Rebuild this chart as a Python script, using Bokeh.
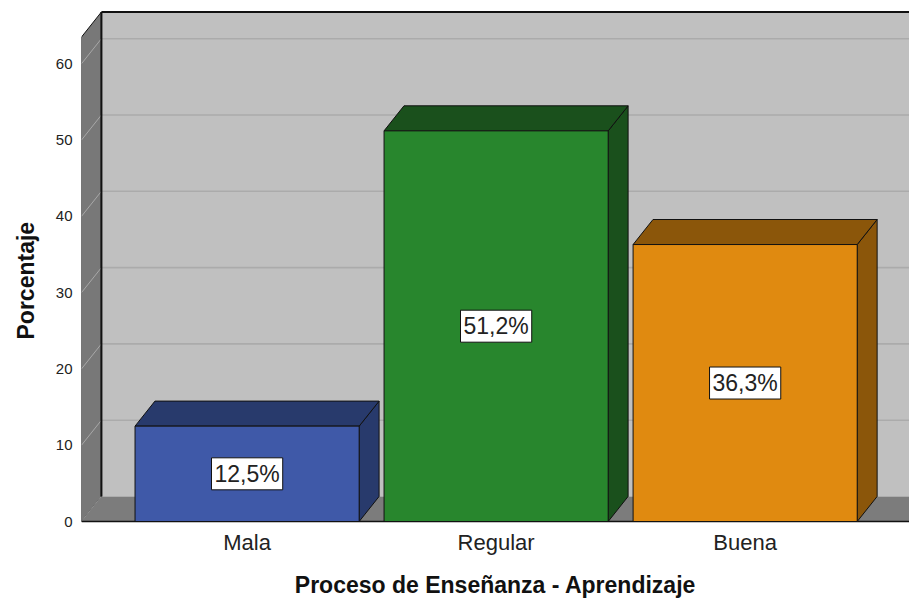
import numpy as np
from bokeh.plotting import figure
from bokeh.models import Range1d, FixedTicker, ColumnDataSource, Title
from bokeh.core.properties import value
from bokeh.embed import file_html
from bokeh.resources import INLINE

# ---- data ----
categories = ["Mala", "Regular", "Buena"]
percentages = [12.5, 51.2, 36.3]
value_labels = ["12,5%", "51,2%", "36,3%"]
y_ticks = [0, 10, 20, 30, 40, 50, 60]
x_title = "Proceso de Enseñanza - Aprendizaje"
y_title = "Porcentaje"

# ---- styles ----
front_colors = ["#3F59A8", "#28862D", "#E08A10"]
shade_colors = ["#283A6C", "#1A501C", "#8B560A"]
DX, DY, BW = 0.08, 3.28, 0.9          # 3D depth offsets and bar width
X0, X1, YTOP = -0.665, 2.665, 63.5    # chart box extent
FONT = "Liberation Sans"

p = figure(width=909, height=600, output_backend="svg", toolbar_location=None,
           x_range=Range1d(-0.665, 2.660), y_range=Range1d(-0.393, 67.76),
           min_border_left=81, min_border_right=0, min_border_top=4,
           min_border_bottom=76)
p.outline_line_color = None
p.grid.visible = False
p.background_fill_color = "white"

# back wall
p.patch([X0 + DX, X1 + DX, X1 + DX, X0 + DX], [DY, DY, YTOP + DY, YTOP + DY],
        fill_color="#C0C0C0", line_color=None)
# back wall gridlines
gt = np.array(y_ticks[1:], dtype=float)
p.segment(x0=[X0 + DX] * len(gt), y0=gt + DY, x1=[X1 + DX] * len(gt), y1=gt + DY,
          line_color="#ABABAB", line_width=1.6)
# left wall
p.patch([X0, X0 + DX, X0 + DX, X0], [0, DY, YTOP + DY, YTOP],
        fill_color="#787878", line_color="#111111", line_width=1)
# left wall gridlines
at = np.array(y_ticks, dtype=float)
p.segment(x0=[X0] * len(at), y0=at, x1=[X0 + DX] * len(at), y1=at + DY,
          line_color="#A8A8A8", line_width=1)
# floor
p.patch([X0, X1, X1 + DX, X0 + DX], [0, 0, DY, DY],
        fill_color="#7C7C7C", line_color=None)
p.segment(x0=[X0, X1, X0 + DX, X0 + DX], y0=[0, 0, DY, YTOP + DY],
          x1=[X1, X1 + DX, X0 + DX, X1 + DX], y1=[0, DY, YTOP + DY, YTOP + DY],
          line_color="#111111", line_width=[1.5, 1, 2, 2])

# bars
idx = np.arange(len(categories), dtype=float)
vals = np.array(percentages, dtype=float)
L = idx - BW / 2
R = idx + BW / 2
tops_xs = [[l, r, r + DX, l + DX] for l, r in zip(L, R)]
tops_ys = [[v, v, v + DY, v + DY] for v in vals]
side_xs = [[r, r + DX, r + DX, r] for r in R]
side_ys = [[0, DY, v + DY, v] for v in vals]
p.patches(side_xs, side_ys, fill_color=shade_colors, line_color="#111111", line_width=1)
p.patches(tops_xs, tops_ys, fill_color=shade_colors, line_color="#111111", line_width=1)
p.quad(left=L, right=R, bottom=0, top=vals, fill_color=front_colors,
       line_color="#111111", line_width=1)

# value labels
src = ColumnDataSource(dict(x=idx, y=vals / 2, text=value_labels))
p.text(x="x", y="y", text="text", source=src,
       text_align="center", text_baseline="middle",
       text_font=value(FONT), text_font_size="23px", text_color="#222222",
       background_fill_color="white", border_line_color="#111111",
       border_line_width=1, padding=3)

# axes
p.xaxis.ticker = FixedTicker(ticks=list(range(len(categories))))
p.xaxis.major_label_overrides = {i: c for i, c in enumerate(categories)}
p.yaxis.ticker = FixedTicker(ticks=y_ticks)
for ax in (p.xaxis, p.yaxis):
    ax.axis_line_color = None
    ax.major_tick_line_color = None
    ax.minor_tick_line_color = None
    ax.major_tick_out = 0
    ax.major_tick_in = 0
    ax.minor_tick_out = 0
    ax.major_label_text_font = FONT
    ax.major_label_text_color = "#222222"
    ax.axis_label_text_font = FONT
    ax.axis_label_text_font_style = "bold"
    ax.axis_label_text_font_size = "23px"
    ax.axis_label_text_color = "#111111"
p.xaxis.major_label_text_font_size = "22px"
p.yaxis.major_label_text_font_size = "15px"
p.xaxis.major_label_standoff = 5
p.yaxis.major_label_standoff = 9
p.xaxis.axis_label = x_title
p.xaxis.axis_label_standoff = 14

# y-axis title, placed along the front wall
p.add_layout(Title(text=y_title, align="left", vertical_align="top",
                   offset=185, standoff=24,
                   text_font=FONT, text_font_style="bold", text_font_size="23px",
                   text_color="#111111"), "left")

open("out.html", "w").write(file_html(p, INLINE))
